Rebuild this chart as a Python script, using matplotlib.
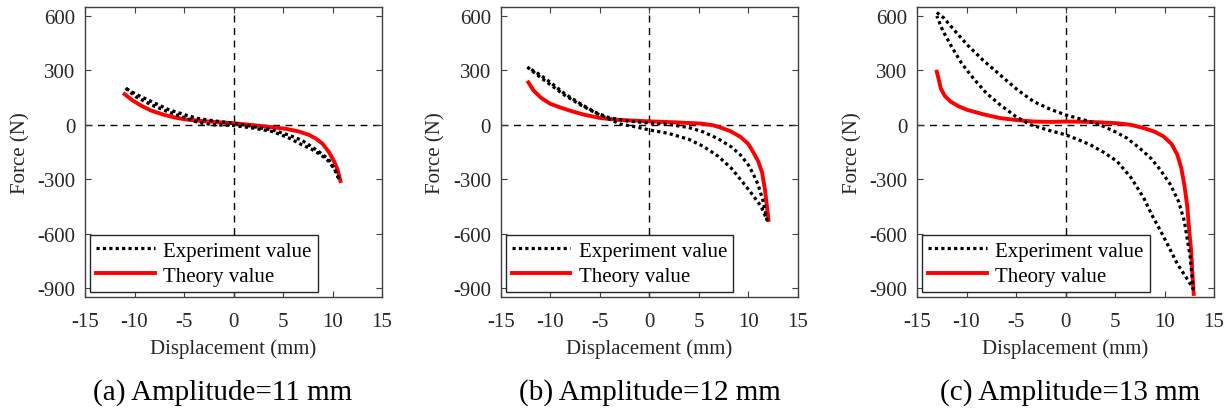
import matplotlib
matplotlib.use("Agg")
import matplotlib.pyplot as plt
import numpy as np

plt.rcParams['font.family'] = ['Liberation Serif', 'DejaVu Serif']
plt.rcParams['axes.unicode_minus'] = False

# ---- data (displacement mm, force N) ----
# (a) amplitude 11 mm
exp_a_x = [-10.9, -9.9, -8.3, -6.6, -4.9, -3.5, -2.0, 0.0, 2.0, 3.9, 5.5, 6.9, 7.9, 8.8, 9.6, 10.2, 10.7,
           10.2, 9.6, 8.6, 7.6, 6.9, 5.5, 3.9, 2.0, 0.0, -2.0, -3.5, -4.9, -6.6, -8.3, -9.9, -10.9]
exp_a_y = [202, 156, 110, 72, 38, 12, 0, -4, -18, -37, -70, -110, -135, -165, -200, -245, -305,
           -240, -190, -147, -110, -85, -55, -28, -10, 9, 22, 34, 55, 85, 129, 170, 202]
th_a_x = [-11.0, -10.2, -9.3, -8.3, -7.0, -5.9, -4.9, -3.0, -1.5, 0.0, 2.0, 3.9, 5.3, 6.6, 7.6, 8.3, 9.0, 9.6, 10.1, 10.5, 10.8]
th_a_y = [169, 135, 105, 78, 55, 40, 30, 20, 14, 9, -2, -13, -22, -37, -55, -75, -105, -147, -195, -245, -310]

# (b) amplitude 12 mm
exp_b_x = [-12.3, -11.0, -10.0, -8.5, -7.0, -5.5, -4.0, -2.9, -1.5, 0.0, 2.0, 4.0, 5.5, 7.0, 8.3, 9.5, 10.5, 11.3, 11.9,
           11.5, 11.0, 10.5, 10.0, 9.2, 8.3, 7.0, 5.5, 4.0, 2.0, 0.0, -2.0, -4.0, -5.5, -7.0, -8.5, -10.0, -11.0, -12.3]
exp_b_y = [318, 262, 222, 162, 112, 68, 30, 4, -10, -28, -48, -80, -120, -175, -240, -320, -390, -450, -525,
           -420, -330, -270, -220, -165, -122, -78, -40, -15, 2, 10, 20, 38, 70, 118, 170, 235, 275, 318]
th_b_x = [-12.2, -11.7, -10.9, -10.0, -9.0, -8.0, -6.6, -4.9, -3.0, 0.0, 2.5, 5.2, 6.4, 7.2, 8.2, 9.2, 10.0, 10.5, 11.0, 11.4, 11.7, 12.05]
th_b_y = [234, 190, 148, 116, 96, 78, 56, 37, 27, 19, 14, 7, -2, -15, -35, -66, -105, -150, -200, -262, -360, -525]

# (c) amplitude 13 mm
exp_c_x = [-13.0, -12.3, -11.2, -9.9, -8.3, -6.6, -4.9, -3.2, -1.5, 0.0, 1.8, 3.5, 5.0, 6.2, 7.4, 8.6, 9.6, 10.6, 11.4, 12.0, 12.6, 12.9,
           12.4, 11.3, 10.5, 9.6, 8.7, 7.9, 6.6, 5.2, 3.8, 2.5, 1.2, 0.0, -1.7, -3.5, -5.0, -6.6, -8.0, -9.3, -10.5, -11.6, -12.4, -13.0]
exp_c_y = [620, 590, 520, 440, 355, 275, 195, 128, 85, 55, 28, 0, -38, -73, -125, -183, -250, -330, -420, -530, -732, -905,
           -860, -768, -680, -585, -495, -403, -290, -201, -150, -110, -80, -55, -30, 0, 45, 110, 175, 256, 340, 440, 520, 600]
th_c_x = [-13.0, -12.8, -12.6, -12.2, -11.6, -10.8, -9.9, -8.3, -6.6, -4.9, -3.2, -1.5, 0.0, 2.5, 5.2, 6.6, 7.9, 9.0, 9.9, 10.7, 11.3, 11.7, 12.0,
           12.3, 12.5, 12.7, 12.8, 12.95]
th_c_y = [293, 250, 201, 160, 128, 102, 82, 58, 37, 26, 18, 16, 18, 16, 9, 0, -18, -38, -64, -105, -165, -240, -330,
          -450, -585, -700, -805, -933]

panels = [
    ("(a) Amplitude=11 mm", exp_a_x, exp_a_y, th_a_x, th_a_y),
    ("(b) Amplitude=12 mm", exp_b_x, exp_b_y, th_b_x, th_b_y),
    ("(c) Amplitude=13 mm", exp_c_x, exp_c_y, th_c_x, th_c_y),
]
xticks = [-15, -10, -5, 0, 5, 10, 15]
yticks = [600, 300, 0, -300, -600, -900]

fig = plt.figure(figsize=(12.29, 4.10), dpi=100)
lefts = [85, 500.7, 917]
cap_x = [223, 650, 1070]
textc = '#262626'

for i, (cap, ex, ey, tx, ty) in enumerate(panels):
    ax = fig.add_axes([lefts[i] / 1229, (410 - 298) / 410, 297 / 1229, 290 / 410])
    ax.axhline(0, color='k', lw=1, ls=(0, (5, 4)), zorder=1)
    ax.axvline(0, color='k', lw=1, ls=(0, (5, 4)), zorder=1)
    ax.plot(ex, ey, color='k', lw=2.3, ls=(0, (1, 1)), label='Experiment value', zorder=3)
    ax.plot(tx, ty, color='#ff0000', lw=2.8, label='Theory value', zorder=2)
    ax.set_xlim(-15, 15)
    ax.set_ylim(-950, 650)
    ax.set_xticks(xticks)
    ax.set_yticks(yticks)
    ax.tick_params(direction='in', top=True, right=True, length=4, width=0.8,
                   colors='#404040', labelcolor=textc, labelsize=15)
    ax.tick_params(axis='x', pad=11)
    ax.tick_params(axis='y', pad=7)
    for s in ax.spines.values():
        s.set_color('#404040')
        s.set_linewidth(1)
    ax.set_xlabel('Displacement (mm)', fontsize=15, color=textc, labelpad=5)
    ax.set_ylabel('Force (N)', fontsize=15, color=textc, labelpad=5)
    leg = ax.legend(loc='lower left', fontsize=15, handlelength=2.8, borderaxespad=0.25,
                    fancybox=False, framealpha=1, edgecolor='#262626', labelspacing=0.25,
                    borderpad=0.3, handletextpad=0.4)
    leg.get_frame().set_linewidth(1)
    leg.set_zorder(5)
    fig.text(cap_x[i] / 1229, (410 - 393) / 410, cap, ha='center', va='center', fontsize=21, color='k')

fig.savefig('out.png', dpi=100)
